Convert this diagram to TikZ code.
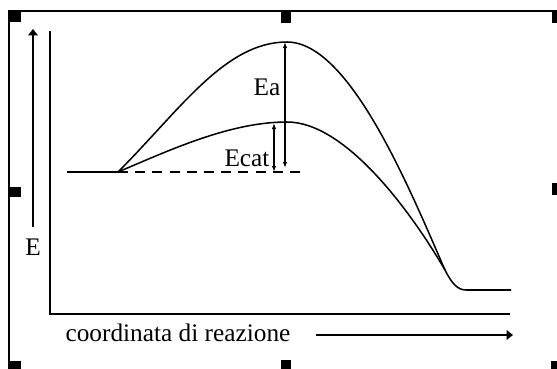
\documentclass[tikz,border=0pt]{standalone}
\usepackage{fontspec}
\setmainfont{Liberation Serif}
\usetikzlibrary{arrows.meta, positioning, calc}
\definecolor{ink}{HTML}{000000}
\definecolor{paper}{HTML}{FFFFFF}

\begin{document}
\begin{tikzpicture}[
  x=0.25mm, y=-0.25mm,
  >={Triangle[length=1.6mm, width=2.4mm]},
  frameline/.style={line width=0.5mm, ink},
  axisline/.style={line width=0.45mm, ink},
  curveline/.style={line width=0.38mm, ink, line join=round},
  dimarrow/.style={{Latex[length=1.5mm, width=1.1mm]}-{Latex[length=1.5mm, width=1.1mm]},
    line width=0.3mm, ink},
  lbl/.style={font=\fontsize{18}{20}\selectfont, text=ink, inner sep=1pt},
]

% Background
\fill[paper] (0,0) rectangle (557,369);
\useasboundingbox (0,0) rectangle (557,369);

% ---- Frame and handles ----
\draw[frameline] (557,11) -- (9,11) -- (9,369);
\foreach \xa/\ya/\xb/\yb in {9/10/21/22, 281/10/291/23, 552/10/557/23,
                             9/187/21/197, 552/183/557/195,
                             9/361/21/369, 281/360/291/369, 551/361/557/369} {
  \fill[ink] (\xa,\ya) rectangle (\xb,\yb);
}

% ---- Axes ----
\coordinate (ytip) at (50,31);
\coordinate (origin) at (50,314);
\coordinate (xtip) at (510,314);
\draw[axisline] (ytip) -- (origin) -- (xtip);

% Energy arrow
\node[lbl] (elabel) at (33,247) {E};
\coordinate (ebase) at (33,227);
\coordinate (etip) at (33,29);
\draw[axisline, ->] (ebase) -- (etip);

% Reaction coordinate arrow
\node[lbl] (xlabel) at (178,333) {coordinata di reazione};
\coordinate (rstart) at (316,335);
\coordinate (rtip) at (513,335);
\draw[axisline, ->] (rstart) -- (rtip);

% ---- Energy profiles ----
\coordinate (reac) at (67,172);
\coordinate (start) at (118,172);
\coordinate (dashend) at (305,172);
\coordinate (peakA) at (287,42);
\coordinate (peakB) at (287,122);
\coordinate (merge) at (445,270);
\coordinate (prod) at (466,290);
\coordinate (prodend) at (511,290);

\draw[curveline] (reac) -- (start)
  .. controls (180,110) and (225,42) .. (peakA)
  .. controls (350,42) and (410,190) .. (merge)
  .. controls (452,284) and (458,290) .. (prod) -- (prodend);
\draw[curveline] (start)
  .. controls (170,150) and (230,122) .. (peakB)
  .. controls (345,122) and (410,210) .. (merge);
\draw[curveline, dash pattern=on 2.5mm off 1.8mm] (start) -- (dashend);

% ---- Activation energies ----
\coordinate (eatop) at (285,42);
\coordinate (eabot) at (285,168);
\coordinate (ecattop) at (274,123);
\coordinate (ecatbot) at (274,172);
\draw[dimarrow] (eatop) -- (eabot);
\draw[dimarrow] (ecattop) -- (ecatbot);

\node[lbl] (ealabel) at (267,87) {Ea};
\node[lbl] (ecatlabel) at (247,158) {Ecat};

\end{tikzpicture}
\end{document}
